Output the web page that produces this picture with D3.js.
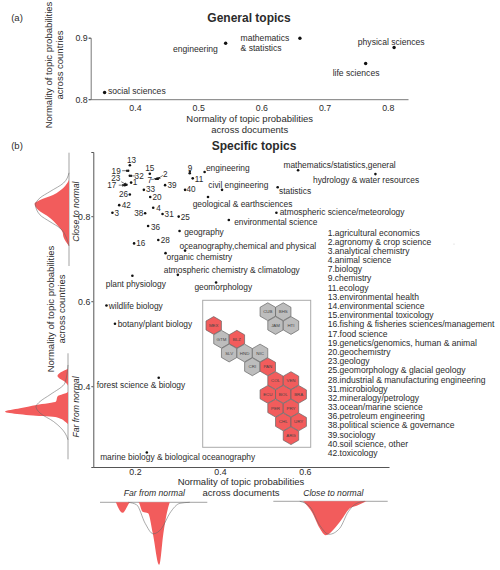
<!DOCTYPE html>
<html>
<head>
<meta charset="utf-8">
<script src="https://d3js.org/d3.v7.min.js"></script>
<style>
	body { margin: 0; background: #fff; }
	text { font-family: "Liberation Sans", Arial, sans-serif; fill: #2b2b2b; }
	.axis path, .axis line { stroke: #555; }
	.axis text { font-size: 8.8px; }
</style>
</head>
<body>
<div id="chart"></div>
<script>
// - panel (a) data -
var generalTopics = ['social sciences', 'engineering', 'mathematics\n& statistics', 'physical sciences', 'life sciences'];
var generalX = [0.352, 0.5435, 0.661, 0.81, 0.765];
var generalY = [0.811, 0.891, 0.899, 0.884, 0.858];
var generalTicksX = [0.4, 0.5, 0.6, 0.7, 0.8];
var generalTicksY = [0.8, 0.9];

// - panel (b) data -
var specificTopics = ['13', '19', '32', '23', '17', '1', '15', '7', '2', '33', '39', '20', '26', '42', '3', '38', '4', '31', '25', '36', '16', '28', '9', '11', '40',
	'engineering', 'civil engineering', 'geological & earthsciences', 'geography', 'environmental science',
	'oceanography,chemical and physical', 'organic chemistry', 'atmospheric chemistry & climatology', 'plant physiology',
	'geomorphology', 'wildlife biology', 'botany/plant biology', 'forest science & biology',
	'marine biology & biological oceanography', 'mathematics/statistics,general', 'hydrology & water resources',
	'statistics', 'atmospheric science/meteorology'];
var specificX = [0.188, 0.184, 0.188, 0.180, 0.176, 0.191, 0.235, 0.252, 0.254, 0.221, 0.271, 0.236, 0.188, 0.163, 0.147, 0.224, 0.243, 0.265, 0.303, 0.231, 0.198, 0.255, 0.329, 0.336, 0.318,
	0.364, 0.405, 0.372, 0.305, 0.421, 0.318, 0.272, 0.301, 0.194, 0.391, 0.133, 0.153, 0.256, 0.228, 0.584, 0.766, 0.536, 0.533];
var specificY = [0.920, 0.907, 0.895, 0.874, 0.873, 0.879, 0.900, 0.888, 0.888, 0.862, 0.873, 0.845, 0.851, 0.826, 0.808, 0.807, 0.820, 0.805, 0.799, 0.777, 0.736, 0.744, 0.901, 0.889, 0.862,
	0.904, 0.862, 0.845, 0.765, 0.791, 0.719, 0.713, 0.662, 0.660, 0.644, 0.590, 0.547, 0.420, 0.244, 0.908, 0.899, 0.868, 0.808];
var specificTicksX = [0.2, 0.4, 0.6];
var specificTicksY = [0.4, 0.6, 0.8];

var topicList = ['1.agricultural economics', '2.agronomy & crop science', '3.analytical chemistry', '4.animal science', '7.biology', '9.chemistry',
	'11.ecology', '13.environmental health', '14.environmental science', '15.environmental toxicology', '16.fishing & fisheries sciences/management',
	'17.food science', '19.genetics/genomics, human & animal', '20.geochemistry', '23.geology', '25.geomorphology & glacial geology',
	'28.industrial & manufacturing engineering', '31.microbiology', '32.mineralogy/petrology', '33.ocean/marine science', '36.petroleum engineering',
	'38.political science & governance', '39.sociology', '40.soil science, other', '42.toxicology'];

// - marginal densities -
var closeYPos = [0.885, 0.867, 0.850, 0.838, 0.829, 0.815, 0.796, 0.777, 0.763, 0.751, 0.730];
var closeYRed = [0, 1.1, 3.2, 5.8, 6.9, 6.2, 3.8, 2.2, 1.3, 1.1, 0];
var closeYNormPos = [0.902, 0.878, 0.858, 0.843, 0.827, 0.803, 0.787, 0.772, 0.749, 0.730];
var closeYNorm = [0, 1.1, 3.8, 5.8, 6.7, 5.8, 3.8, 1.8, 0.5, 0];

var farYPos = [0.441, 0.424, 0.409, 0.401, 0.387, 0.376, 0.364, 0.356, 0.348, 0.340, 0.334, 0.331, 0.327, 0.314, 0.311];
var farYRed = [0, 2.1, 0.5, 0, 0, 2.1, 2.4, 6.3, 9.6, 12.6, 9.6, 7.0, 2.3, 0.3, 0];
var farYNormPos = [0.450, 0.408, 0.380, 0.364, 0.352, 0.337, 0.317, 0.290, 0.274];
var farYNorm = [0, 0.6, 3.6, 5.6, 6.4, 5.6, 2.9, 0.6, 0];

var farXPos = [0.155, 0.171, 0.190, 0.208, 0.218, 0.231, 0.242, 0.257, 0.267, 0.275, 0.282];
var farXRed = [0, 2.1, 0, 0, 1.9, 2.2, 6.2, 12.5, 6.2, 2.2, 0];
var farXNormPos = [0.184, 0.204, 0.224, 0.243, 0.263, 0.282, 0.306, 0.329];
var farXNorm = [0, 0.5, 4.2, 6.3, 5.2, 2.2, 0.2, 0];

var closeXPos = [0.596, 0.616, 0.635, 0.649, 0.667, 0.686, 0.706, 0.722, 0.745];
var closeXRed = [0, 2.1, 5.4, 6.8, 5.7, 3.7, 1.4, 0.9, 0];
var closeXNormPos = [0.588, 0.612, 0.635, 0.657, 0.682, 0.702, 0.722, 0.741];
var closeXNorm = [0, 1.1, 4.8, 6.6, 5.4, 2.1, 0.4, 0];

// - hex map data -
var hexCodes = ['CUB', 'BHS', 'JAM', 'HTI', 'MEX', 'GTM', 'BLZ', 'SLV', 'HND', 'NIC', 'CRI', 'PAN', 'COL', 'VEN', 'ECU', 'BOL', 'BRA', 'PER', 'PRY', 'CHL', 'URY', 'ARG'];
var hexCol = [7, 9, 8, 10, 0, 1, 3, 2, 4, 6, 5, 7, 8, 10, 7, 9, 11, 8, 10, 9, 11, 10];
var hexRow = [0, 0, 1, 1, 1, 2, 2, 3, 3, 3, 4, 4, 5, 5, 6, 6, 6, 7, 7, 8, 8, 9];
var hexFar = [0, 0, 0, 0, 1, 0, 1, 0, 0, 0, 0, 1, 1, 1, 1, 1, 1, 1, 1, 1, 1, 1];

// - label placement, offsets from the dot -
var generalDx = [3.3, -52.7, -59.4, -36.3, -33];
var generalDy = [-1.6, 6, 0, -5.4, 9.3];

var specificDx = [1.7, -12, 9.3, -10.7, -13, 4, 0, -7.3, 7.3, 6.7, 7, 6.7, -6.3, 7, 4.4, -6.3, 5.3, 6.6, 6.6, 7.4, 6.7, 7, 0.3, 6.3, 6,
	1.3, -13.7, -15.3, 4.6, 5.3, -5.6, 1, -14, -26.6, -21.7, 2.3, 2.7, -62, -46.7, -14.6, -62.4, 1.3, 3.3];
var specificDy = [-5, 0, 0.3, -6.3, 0, 0, -6, 1, -5, -1, 0.4, 0, 0, -0.3, 0.3, 0, 0.3, 0, 0.6, 0.7, 0, 0.3, -5, 1, -0.7,
	-4, -5, 6.7, 1, 2, -4.4, 3.4, -5.3, 8, 4.6, 1, 0.3, 7.7, 5, -5.6, 5.7, 3.7, -0.4];
var leaderTopics = ['19', '32', '23', '17', '7', '2', '9'];

var red = '#f25c5c';
var grey = '#bdbdbd';

var svg = d3.select('#chart').append('svg')
	.attr('width', 500)
	.attr('height', 570);

svg.append('defs').append('marker')
	.attr('id', 'head')
	.attr('viewBox', '0 0 6 6')
	.attr('refX', 5)
	.attr('refY', 3)
	.attr('markerWidth', 5)
	.attr('markerHeight', 5)
	.attr('orient', 'auto')
	.append('path')
		.attr('d', 'M0,0L6,3L0,6Z')
		.attr('fill', '#222');

function addText(x, y, str, size, opts) {
	opts = opts || {};
	return svg.append('text')
		.attr('transform', 'translate(' + x + ',' + y + ')' + (opts.rotate ? ' rotate(' + opts.rotate + ')' : ''))
		.attr('dy', '0.35em')
		.attr('text-anchor', opts.anchor || 'middle')
		.style('font-size', size + 'px')
		.style('font-weight', opts.bold ? 'bold' : null)
		.style('font-style', opts.italic ? 'italic' : null)
		.text(str);
}

// - panel (a) -
var xA = d3.scaleLinear().domain([0.33, 0.832]).range([90.7, 408]);
var yA = d3.scaleLinear().domain([0.8, 0.9]).range([99.2, 37.7]);

svg.append('g')
	.attr('class', 'axis')
	.attr('transform', 'translate(0,99.2)')
	.call(d3.axisBottom(xA).tickValues(generalTicksX).tickFormat(d3.format('.1f')).tickSize(0).tickPadding(6))
	.select('.domain').attr('stroke-width', 0.8);

svg.append('g')
	.attr('class', 'axis')
	.attr('transform', 'translate(90.7,0)')
	.call(d3.axisLeft(yA).tickValues(generalTicksY).tickFormat(d3.format('.1f')).tickSize(2).tickPadding(1))
	.select('.domain').attr('stroke-width', 0.8);

generalTopics.forEach(function(name, i) {
	var cx = xA(generalX[i]);
	var cy = yA(generalY[i]);
	svg.append('circle').attr('cx', cx).attr('cy', cy).attr('r', 1.7).attr('fill', '#111');
	name.split('\n').forEach(function(line, j) {
		addText(cx + generalDx[i], cy + generalDy[i] + j * 9.7, line, 8.6, { anchor: 'start' });
	});
});

addText(17, 18, '(a)', 9.5);
addText(249, 18, 'General topics', 12, { bold: true });
addText(249.7, 119, 'Normality of topic probabilities', 9.5);
addText(249.7, 130, 'across documents', 9.5);
addText(49, 65, 'Normality of topic probabilities', 9.5, { rotate: -90 });
addText(60, 65, 'across countries', 9.5, { rotate: -90 });

// - panel (b) -
var xB = d3.scaleLinear().domain([0.102, 0.798]).range([93.3, 389]);
var yB = d3.scaleLinear().domain([0.21, 0.951]).range([467, 152]);

svg.append('g')
	.attr('class', 'axis')
	.attr('transform', 'translate(0,467)')
	.call(d3.axisBottom(xB).tickValues(specificTicksX).tickFormat(d3.format('.1f')).tickSize(0).tickPadding(2));

svg.append('g')
	.attr('class', 'axis')
	.attr('transform', 'translate(93.3,0)')
	.call(d3.axisLeft(yB).tickValues(specificTicksY).tickFormat(d3.format('.1f')).tickSize(2).tickPadding(1));

specificTopics.forEach(function(name, i) {
	var cx = xB(specificX[i]);
	var cy = yB(specificY[i]);
	var numbered = /^\d+$/.test(name);
	svg.append('circle').attr('cx', cx).attr('cy', cy).attr('r', 1.3).attr('fill', '#111');
	addText(cx + specificDx[i], cy + specificDy[i], name, numbered ? 8.2 : 8.4, { anchor: numbered ? 'middle' : 'start' });

	if (leaderTopics.indexOf(name) >= 0) {
		var dx = specificDx[i];
		var dy = specificDy[i];
		var len = Math.sqrt(dx * dx + dy * dy);
		var gap = Math.min(6, len - 1.5) / len;
		svg.append('line')
			.attr('x1', cx + dx * gap)
			.attr('y1', cy + dy * gap)
			.attr('x2', cx)
			.attr('y2', cy)
			.attr('stroke', '#222')
			.attr('stroke-width', 0.6)
			.attr('marker-end', 'url(#head)');
	}
});

topicList.forEach(function(line, i) {
	addText(327.7, 232.5 + i * 9.19, line, 8.55, { anchor: 'start' });
});

svg.append('circle').attr('cx', 454).attr('cy', 244).attr('r', 0.6).attr('fill', '#ccc');

addText(17, 146, '(b)', 9.5);
addText(254, 146, 'Specific topics', 12, { bold: true });
addText(241, 482, 'Normality of topic probabilities', 9.5);
addText(241, 493, 'across documents', 9.5);
addText(51, 309, 'Normality of topic probabilities', 9.5, { rotate: -90 });
addText(62, 309, 'across countries', 9.5, { rotate: -90 });
addText(75.5, 211.7, 'Close to normal', 8.6, { rotate: -90, italic: true });
addText(75.5, 407, 'Far from normal', 8.6, { rotate: -90, italic: true });
addText(154.3, 493, 'Far from normal', 8.6, { italic: true });
addText(333.3, 493, 'Close to normal', 8.6, { italic: true });

// - marginal densities -
var hDens = d3.scaleLinear().domain([0, 10]).range([0, 50]);

function zipDens(pos, dens) {
	return pos.map(function(p, i) { return { p: p, d: dens[i] }; });
}

function leftDensity(baseX, y1, y2, pos, redVals, normPos, normVals) {
	svg.append('line').attr('x1', baseX).attr('x2', baseX).attr('y1', y1).attr('y2', y2)
		.attr('stroke', '#999').attr('stroke-width', 0.9);

	var area = d3.area()
		.x0(baseX)
		.x1(function(d) { return baseX - hDens(d.d); })
		.y(function(d) { return yB(d.p); })
		.curve(d3.curveMonotoneY);
	svg.append('path').attr('d', area(zipDens(pos, redVals))).attr('fill', red);

	var line = d3.line()
		.x(function(d) { return baseX - hDens(d.d); })
		.y(function(d) { return yB(d.p); })
		.curve(d3.curveMonotoneY);
	svg.append('path').attr('d', line(zipDens(normPos, normVals)))
		.attr('fill', 'none').attr('stroke', '#666').attr('stroke-opacity', 0.7).attr('stroke-width', 0.8);
}

function bottomDensity(baseY, x1, x2, pos, redVals, normPos, normVals) {
	svg.append('line').attr('x1', x1).attr('x2', x2).attr('y1', baseY).attr('y2', baseY)
		.attr('stroke', '#999').attr('stroke-width', 0.9);

	var area = d3.area()
		.x(function(d) { return xB(d.p); })
		.y0(baseY)
		.y1(function(d) { return baseY + hDens(d.d); })
		.curve(d3.curveMonotoneX);
	svg.append('path').attr('d', area(zipDens(pos, redVals))).attr('fill', red);

	var line = d3.line()
		.x(function(d) { return xB(d.p); })
		.y(function(d) { return baseY + hDens(d.d); })
		.curve(d3.curveMonotoneX);
	svg.append('path').attr('d', line(zipDens(normPos, normVals)))
		.attr('fill', 'none').attr('stroke', '#666').attr('stroke-opacity', 0.7).attr('stroke-width', 0.8);
}

leftDensity(69, 152.7, 266, closeYPos, closeYRed, closeYNormPos, closeYNorm);
leftDensity(68, 353.3, 459.3, farYPos, farYRed, farYNormPos, farYNorm);
bottomDensity(502.3, 100, 207.3, farXPos, farXRed, farXNormPos, farXNorm);
bottomDensity(501.3, 273.3, 387.7, closeXPos, closeXRed, closeXNormPos, closeXNorm);

// - hex map inset -
svg.append('rect')
	.attr('x', 202.7)
	.attr('y', 300.3)
	.attr('width', 108)
	.attr('height', 147)
	.attr('fill', '#fff')
	.attr('stroke', '#aaa')
	.attr('stroke-width', 1);

var hexX = d3.scaleLinear().domain([0, 11]).range([213.7, 298.7]);
var hexY = d3.scaleLinear().domain([0, 9]).range([311.7, 435.7]);
var hexR = 8.9;
var hexPath = d3.range(6).map(function(i) {
	var a = Math.PI / 3 * i + Math.PI / 6;
	return [hexR * Math.cos(a), hexR * Math.sin(a)];
});

var hexes = svg.selectAll('.hex')
	.data(hexCodes)
	.enter().append('g')
		.attr('class', 'hex')
		.attr('transform', function(d, i) { return 'translate(' + hexX(hexCol[i]) + ',' + hexY(hexRow[i]) + ')'; });

hexes.append('path')
	.attr('d', 'M' + hexPath.join('L') + 'Z')
	.attr('fill', function(d, i) { return hexFar[i] ? red : grey; })
	.attr('stroke', '#666')
	.attr('stroke-width', 0.7);

hexes.append('text')
	.attr('text-anchor', 'middle')
	.attr('dy', '0.35em')
	.style('font-size', '4.4px')
	.style('fill', '#444')
	.text(function(d) { return d; });
</script>
</body>
</html>
